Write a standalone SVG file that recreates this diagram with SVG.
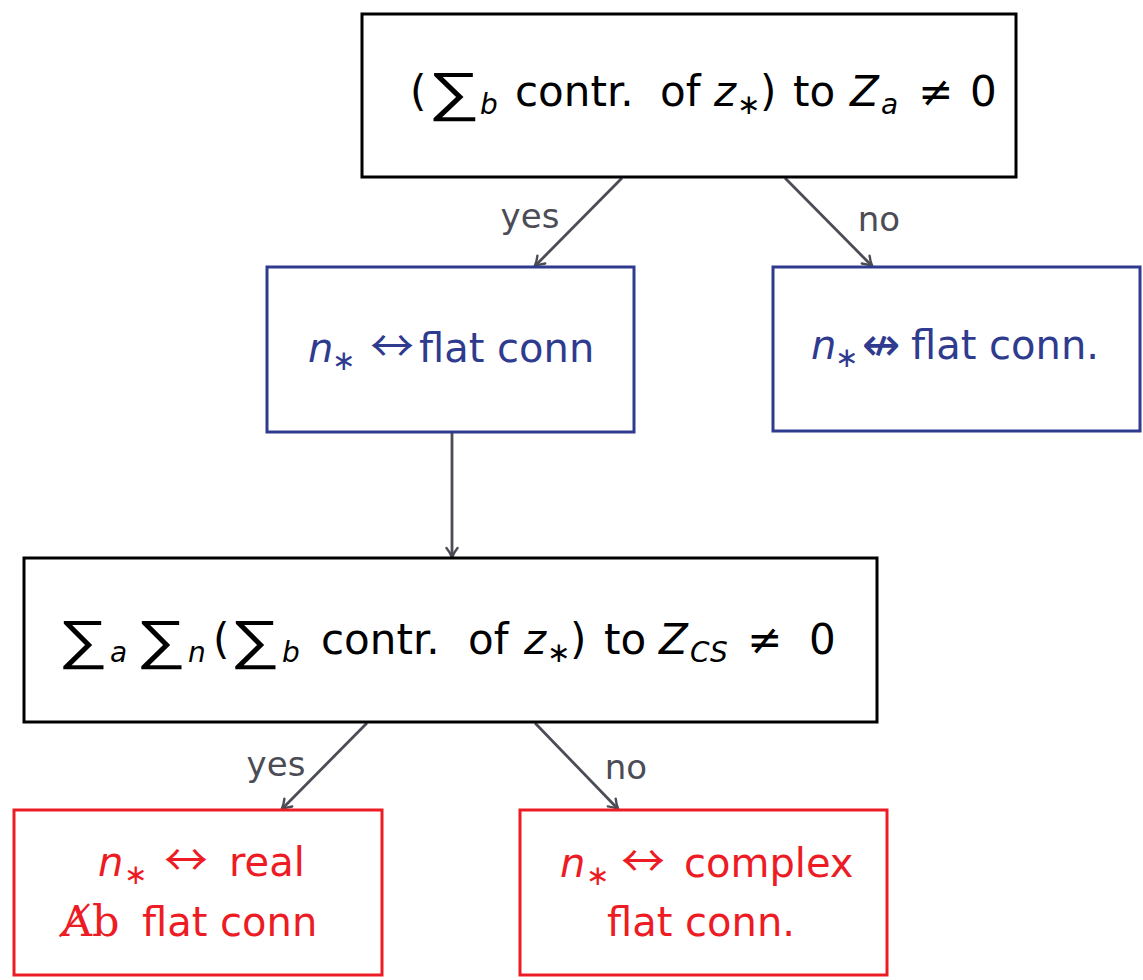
<svg xmlns="http://www.w3.org/2000/svg" width="1143" height="980" viewBox="0 0 1143 980">
  <style>
    .box { fill: #ffffff; stroke-width: 3; }
    .k { stroke: #000000; }
    .b { stroke: #2f3b8e; }
    .r { stroke: #ed1c24; }
    text { font-family: "DejaVu Sans", "Liberation Sans", sans-serif; font-size: 40px; white-space: pre; }
    .big { font-size: 42px; }
    .tk { fill: #000000; }
    .tb { fill: #2f3b8e; }
    .tr { fill: #ed1c24; }
    .it { font-style: italic; }
    .sub { font-size: 28px; }
    .sig { font-family: "Liberation Sans", "DejaVu Sans", sans-serif; font-size: 54px; }
    .arr { font-family: "Noto Sans CJK JP", "DejaVu Sans", sans-serif; font-size: 44px; }
    .narr { font-family: "DejaVu Sans", sans-serif; font-size: 46px; }
    .serif { font-family: "DejaVu Serif", "Liberation Serif", serif; font-size: 43px; }
    .lbl { fill: #4b4c56; font-size: 34px; text-anchor: middle; }
    .edge { stroke: #4b4c56; stroke-width: 2.8; fill: none; marker-end: url(#arrow); }
  </style>
  <defs>
    <marker id="arrow" viewBox="0 0 14 14" refX="12" refY="7" markerWidth="14" markerHeight="14" markerUnits="userSpaceOnUse" orient="auto">
      <path d="M3,1.5 Q8,5.5 12.5,7 Q8,8.5 3,12.5" fill="none" stroke="#4b4c56" stroke-width="2.4" stroke-linecap="round" stroke-linejoin="round"/>
    </marker>
  </defs>

  <g id="connectors">
    <line class="edge" x1="622" y1="178" x2="535" y2="266"/>
    <line class="edge" x1="785" y1="178" x2="872" y2="266"/>
    <line class="edge" x1="452" y1="433" x2="452" y2="557"/>
    <line class="edge" x1="367" y1="723" x2="282" y2="809"/>
    <line class="edge" x1="535" y1="723" x2="618" y2="809"/>
    <text class="lbl" x="530" y="228">yes</text>
    <text class="lbl" x="879" y="231">no</text>
    <text class="lbl" x="276" y="776">yes</text>
    <text class="lbl" x="626" y="779">no</text>
  </g>

  <g id="node-top">
    <rect class="box k" x="362" y="14" width="654" height="163"/>
    <text class="tk sig" transform="translate(428,110) scale(1.35,1)">∑</text>
    <text class="tk big" y="106"><tspan x="410">(</tspan><tspan class="it sub" x="480" y="114">b</tspan><tspan x="515" y="106">contr.</tspan><tspan x="660">of</tspan><tspan class="it" x="714">z</tspan><tspan class="sub" x="737" y="114">∗</tspan><tspan x="760" y="106">)</tspan><tspan x="793">to</tspan><tspan class="it" x="850">Z</tspan><tspan class="it sub" x="881" y="114">a</tspan><tspan x="918" y="106">≠</tspan><tspan x="970">0</tspan></text>
  </g>

  <g id="node-flat">
    <rect class="box b" x="267" y="267" width="367" height="165"/>
    <text class="tb" y="362"><tspan class="it" x="308">n</tspan><tspan class="sub" x="332" y="370">∗</tspan><tspan class="arr" x="370" y="362">↔</tspan><tspan x="419">flat conn</tspan></text>
  </g>

  <g id="node-not-flat">
    <rect class="box b" x="773" y="267" width="367" height="164"/>
    <text class="tb" y="359"><tspan class="it" x="811">n</tspan><tspan class="sub" x="835" y="367">∗</tspan><tspan class="narr" x="862" y="360">↮</tspan><tspan x="911" y="359">flat conn.</tspan></text>
  </g>

  <g id="node-sum">
    <rect class="box k" x="24" y="558" width="853" height="164"/>
    <text class="tk sig" transform="translate(58,658) scale(1.3,1)">∑</text>
    <text class="tk sig" transform="translate(136,658) scale(1.3,1)">∑</text>
    <text class="tk sig" transform="translate(230,658) scale(1.3,1)">∑</text>
    <text class="tk big" y="654"><tspan class="it sub" x="110" y="662">a</tspan><tspan class="it sub" x="188" y="662">n</tspan><tspan x="213" y="654">(</tspan><tspan class="it sub" x="282" y="662">b</tspan><tspan x="321" y="654">contr.</tspan><tspan x="468">of</tspan><tspan class="it" x="524">z</tspan><tspan class="sub" x="547" y="662">∗</tspan><tspan x="570" y="654">)</tspan><tspan x="604">to</tspan><tspan class="it" x="659">Z</tspan><tspan class="it sub" x="690" y="662">CS</tspan><tspan x="747" y="654">≠</tspan><tspan x="809">0</tspan></text>
  </g>

  <g id="node-real">
    <rect class="box r" x="14" y="810" width="368" height="165"/>
    <text class="tr" y="876"><tspan class="it" x="98">n</tspan><tspan class="sub" x="124" y="884">∗</tspan><tspan class="arr" x="164" y="876">↔</tspan><tspan x="229">real</tspan></text>
    <text class="tr" y="936"><tspan class="serif" x="61">A̸b</tspan><tspan x="142">flat conn</tspan></text>
  </g>

  <g id="node-complex">
    <rect class="box r" x="520" y="810" width="367" height="165"/>
    <text class="tr" y="877"><tspan class="it" x="560">n</tspan><tspan class="sub" x="586" y="885">∗</tspan><tspan class="arr" x="621" y="877">↔</tspan><tspan x="684">complex</tspan></text>
    <text class="tr" y="936"><tspan x="607">flat conn.</tspan></text>
  </g>
</svg>
